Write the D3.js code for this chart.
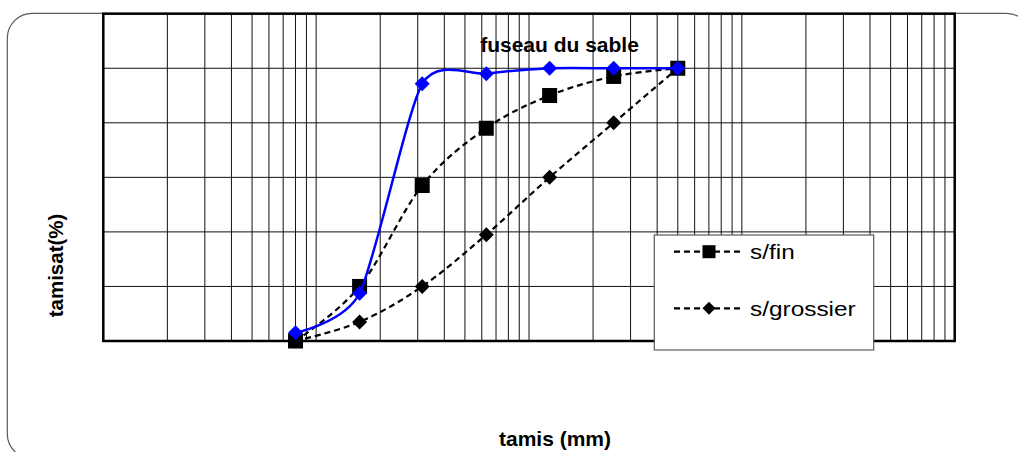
<!DOCTYPE html>
<html lang="fr">
<head>
  <meta charset="UTF-8">
  <title>fuseau du sable</title>
  <script src="https://d3js.org/d3.v7.min.js"></script>
  <style>
    body { margin: 0; background: #fff; }
    text { font-family: "Liberation Sans", Arial, sans-serif; }
  </style>
</head>
<body>
<div id="chart"></div>
<script>
// sieve openings (mm) and cumulative passing (%)
const sieves = [0.08, 0.16, 0.315, 0.63, 1.25, 2.5, 5];
const sFin = [0, 20, 57, 78, 90, 97, 100];
const sGrossier = [0, 7, 20, 39, 60, 80, 100];
const fuseau = [3, 17.5, 94.3, 98, 100, 100, 100];
const xDomain = [0.01, 100];
const yTicks = [20, 40, 60, 80, 100];

const W = 1018, H = 452;
const plot = { left: 103.3, right: 954.7, top: 13.7, bottom: 341 };

const svg = d3.select("#chart").append("svg")
  .attr("width", W).attr("height", H);

// outer rounded frame
svg.append("rect")
  .attr("x", 7.3).attr("y", 13.3)
  .attr("width", 1024).attr("height", 445.5)
  .attr("rx", 25).attr("ry", 25)
  .attr("fill", "#fff")
  .attr("stroke", "#5a5a5a")
  .attr("stroke-width", 1.2);

const x = d3.scaleLog().domain(xDomain).range([plot.left, plot.right]);
const y = d3.scaleLinear().domain([0, 120]).range([plot.bottom, plot.top]);

// plot background
svg.append("rect")
  .attr("x", plot.left).attr("y", plot.top)
  .attr("width", plot.right - plot.left).attr("height", plot.bottom - plot.top)
  .attr("fill", "#fff");

// vertical grid (log)
svg.append("g").selectAll("line")
  .data(x.ticks())
  .join("line")
  .attr("x1", d => x(d)).attr("x2", d => x(d))
  .attr("y1", plot.top).attr("y2", plot.bottom)
  .attr("stroke", "#111").attr("stroke-width", 1);

// horizontal grid
svg.append("g").selectAll("line")
  .data(yTicks)
  .join("line")
  .attr("x1", plot.left).attr("x2", plot.right)
  .attr("y1", d => y(d)).attr("y2", d => y(d))
  .attr("stroke", "#111").attr("stroke-width", 1);

// plot border
svg.append("rect")
  .attr("x", plot.left).attr("y", plot.top)
  .attr("width", plot.right - plot.left).attr("height", plot.bottom - plot.top)
  .attr("fill", "none")
  .attr("stroke", "#000").attr("stroke-width", 2.5);

const line = d3.line()
  .x(d => x(d[0])).y(d => y(d[1]))
  .curve(d3.curveCardinal.tension(0));
const blueLine = d3.line()
  .x(d => x(d[0])).y(d => y(d[1]))
  .curve(d3.curveCardinal.tension(0.3));

const pts = vals => sieves.map((s, i) => [s, vals[i]]);

function square(g, data, size, fill) {
  g.selectAll(null).data(data).join("rect")
    .attr("x", d => x(d[0]) - size / 2).attr("y", d => y(d[1]) - size / 2)
    .attr("width", size).attr("height", size)
    .attr("fill", fill);
}
function diamond(g, data, r, fill) {
  g.selectAll(null).data(data).join("path")
    .attr("d", d => {
      const cx = x(d[0]), cy = y(d[1]);
      return `M${cx},${cy - r}L${cx + r},${cy}L${cx},${cy + r}L${cx - r},${cy}Z`;
    })
    .attr("fill", fill);
}

const dash = "6,4";

// s/fin
const gFin = svg.append("g");
gFin.append("path").attr("d", line(pts(sFin)))
  .attr("fill", "none").attr("stroke", "#000")
  .attr("stroke-width", 2.2).attr("stroke-dasharray", dash);
square(gFin, pts(sFin), 15, "#000");

// s/grossier
const gGro = svg.append("g");
gGro.append("path").attr("d", line(pts(sGrossier)))
  .attr("fill", "none").attr("stroke", "#000")
  .attr("stroke-width", 2.2).attr("stroke-dasharray", dash);
diamond(gGro, pts(sGrossier), 7.5, "#000");

// fuseau du sable
const gFus = svg.append("g");
gFus.append("path").attr("d", blueLine(pts(fuseau)))
  .attr("fill", "none").attr("stroke", "#0000ff")
  .attr("stroke-width", 2.5);
diamond(gFus, pts(fuseau), 7.5, "#0000ff");

// title and axis labels
svg.append("text")
  .attr("x", 559.5).attr("y", 51.5)
  .attr("text-anchor", "middle")
  .style("font-size", "21px").style("font-weight", "bold")
  .text("fuseau du sable");

svg.append("text")
  .attr("transform", "translate(63,265.5) rotate(-90)")
  .attr("text-anchor", "middle")
  .style("font-size", "20.5px").style("font-weight", "bold")
  .text("tamisat(%)");

svg.append("text")
  .attr("x", 555).attr("y", 445.5)
  .attr("text-anchor", "middle")
  .style("font-size", "21px").style("font-weight", "bold")
  .text("tamis (mm)");

// legend
const leg = svg.append("g");
leg.append("rect")
  .attr("x", 654.3).attr("y", 235)
  .attr("width", 219.4).attr("height", 115)
  .attr("fill", "#fff").attr("stroke", "#5a5a5a").attr("stroke-width", 1.2);

const legendItems = [
  { label: "s/fin", marker: "square", ly: 251.7 },
  { label: "s/grossier", marker: "diamond", ly: 308.3 }
];
legendItems.forEach(it => {
  leg.append("line")
    .attr("x1", 674).attr("x2", 742)
    .attr("y1", it.ly).attr("y2", it.ly)
    .attr("stroke", "#000").attr("stroke-width", 2.2)
    .attr("stroke-dasharray", dash);
  if (it.marker === "square") {
    leg.append("rect").attr("x", 709 - 6.5).attr("y", it.ly - 6.5)
      .attr("width", 13).attr("height", 13).attr("fill", "#000");
  } else {
    leg.append("path")
      .attr("d", `M709,${it.ly - 6.5}L${709 + 6.5},${it.ly}L709,${it.ly + 6.5}L${709 - 6.5},${it.ly}Z`)
      .attr("fill", "#000");
  }
  leg.append("text")
    .attr("transform", `translate(750,${it.ly + 7.5}) scale(1.22,1)`)
    .style("font-size", "20px")
    .text(it.label);
});
</script>
</body>
</html>
